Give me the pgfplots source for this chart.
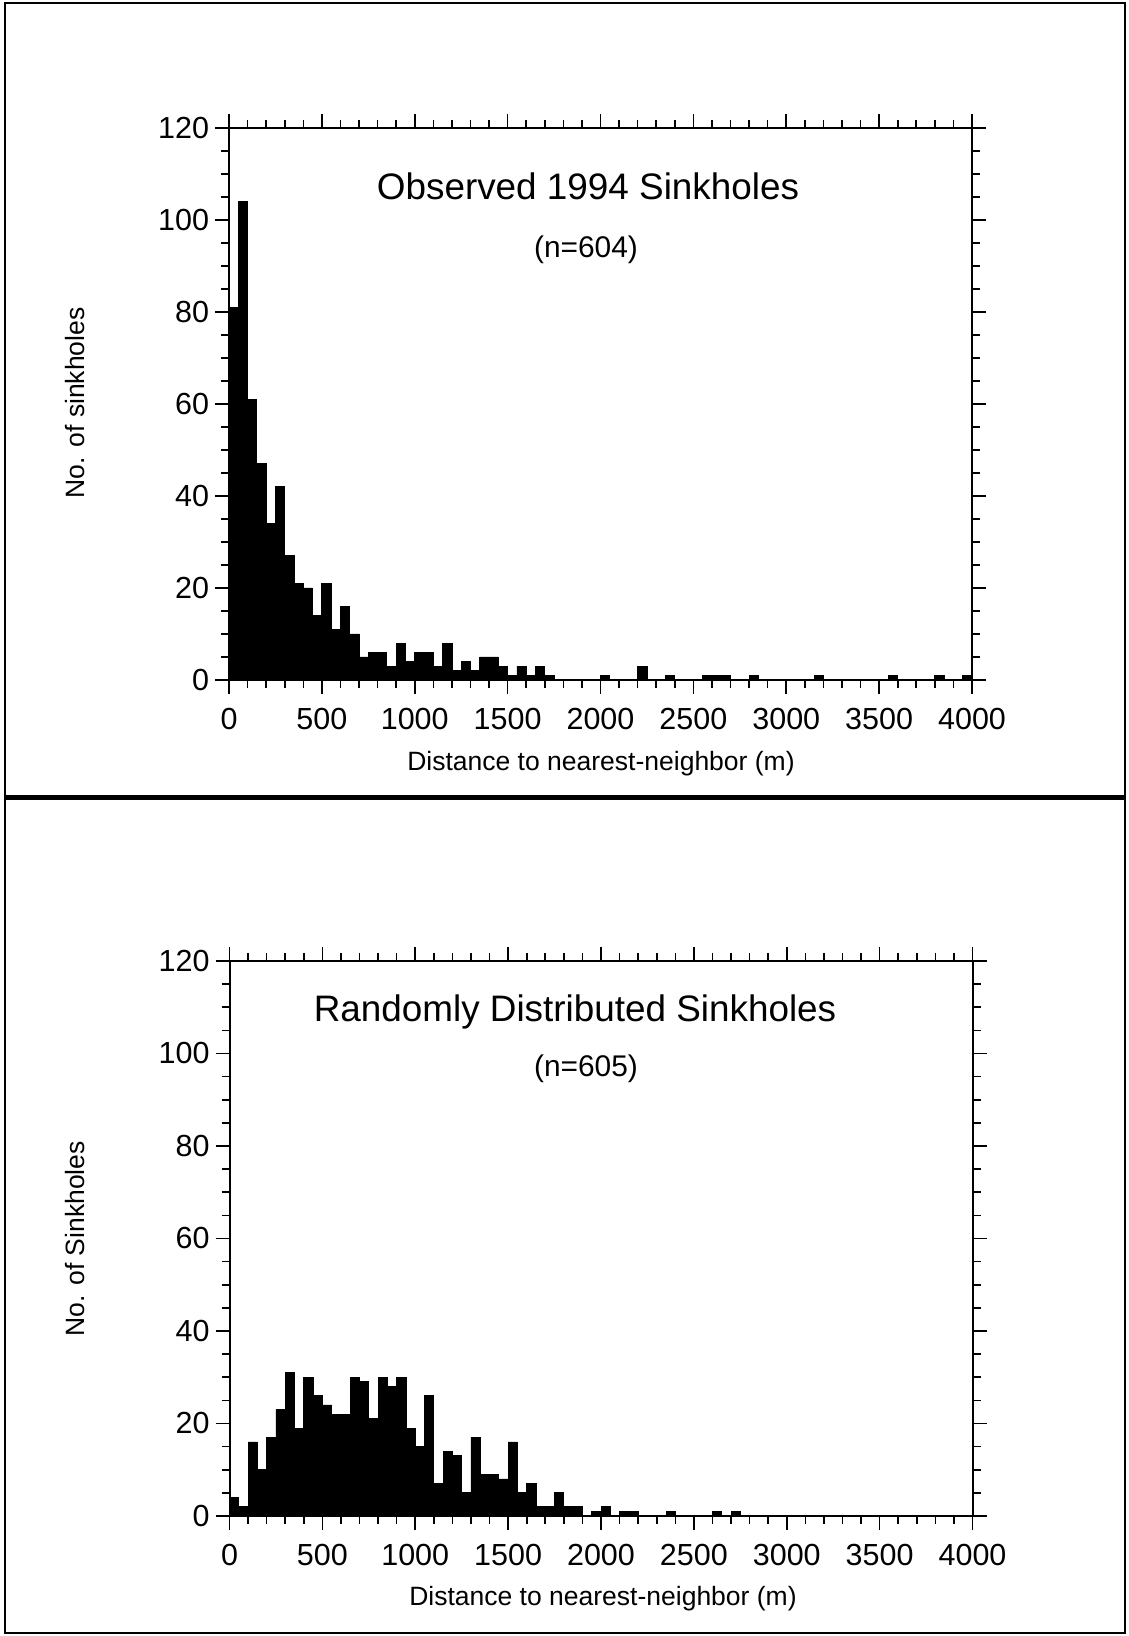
\documentclass[border=0pt]{standalone}
\usepackage{fontspec}
\setmainfont{Liberation Sans}
\usepackage{pgfplots}
\pgfplotsset{compat=1.18}

\pgfplotsset{
  histo/.style={
    scale only axis, width=371.5bp,
    anchor=origin,
    xmin=0, xmax=4000, ymin=0, ymax=120,
    xtick={0,500,...,4000}, ytick={0,20,...,120},
    minor x tick num=4, minor y tick num=3,
    tick align=outside,
    major tick length=7bp, minor tick length=4bp,
    axis line style={line width=1bp},
    every tick/.style={black, line width=0.8bp},
    /pgf/number format/assume math mode=true,
    /pgf/number format/1000 sep={},
    tick label style={font=\fontsize{15.3}{15.3}\selectfont},
    xticklabel style={yshift=-3.5bp},
    yticklabel style={xshift=0.5bp},
  },
  bars/.style={ybar interval, fill=black, draw=black, line width=0.4bp},
}

\begin{document}
\begin{tikzpicture}[x=1bp, y=1bp]
  \useasboundingbox (0,0) rectangle (564.5,818);
  \draw[line width=1.2bp] (2.5,1.5) rectangle (562.5,816.5);
  \draw[line width=2.5bp] (2.5,419) -- (562.5,419);

  % observed
  \begin{axis}[histo, at={(114.5bp,478bp)}, height=276bp]
    \addplot[bars] coordinates {
      (0,81) (50,104) (100,61) (150,47) (200,34) (250,42) (300,27) (350,21)
      (400,20) (450,14) (500,21) (550,11) (600,16) (650,10) (700,5) (750,6)
      (800,6) (850,3) (900,8) (950,4) (1000,6) (1050,6) (1100,3) (1150,8)
      (1200,2) (1250,4) (1300,2) (1350,5) (1400,5) (1450,3) (1500,1) (1550,3)
      (1600,1) (1650,3) (1700,1) (1750,0) (1800,0) (1850,0) (1900,0) (1950,0)
      (2000,1) (2050,0) (2100,0) (2150,0) (2200,3) (2250,0) (2300,0) (2350,1)
      (2400,0) (2450,0) (2500,0) (2550,1) (2600,1) (2650,1) (2700,0) (2750,0)
      (2800,1) (2850,0) (2900,0) (2950,0) (3000,0) (3050,0) (3100,0) (3150,1)
      (3200,0) (3250,0) (3300,0) (3350,0) (3400,0) (3450,0) (3500,0) (3550,1)
      (3600,0) (3650,0) (3700,0) (3750,0) (3800,1) (3850,0) (3900,0) (3950,1)
      (4000,0)
    };
  \end{axis}

  % random
  \begin{axis}[histo, at={(114.75bp,60bp)}, height=277.5bp]
    \addplot[bars] coordinates {
      (0,4) (50,2) (100,16) (150,10) (200,17) (250,23) (300,31) (350,19)
      (400,30) (450,26) (500,24) (550,22) (600,22) (650,30) (700,29) (750,21)
      (800,30) (850,28) (900,30) (950,19) (1000,15) (1050,26) (1100,7) (1150,14)
      (1200,13) (1250,5) (1300,17) (1350,9) (1400,9) (1450,8) (1500,16) (1550,5)
      (1600,7) (1650,2) (1700,2) (1750,5) (1800,2) (1850,2) (1900,0) (1950,1)
      (2000,2) (2050,0) (2100,1) (2150,1) (2200,0) (2250,0) (2300,0) (2350,1)
      (2400,0) (2450,0) (2500,0) (2550,0) (2600,1) (2650,0) (2700,1) (2750,0)
      (2800,0) (2850,0) (2900,0) (2950,0) (3000,0) (3050,0) (3100,0) (3150,0)
      (3200,0) (3250,0) (3300,0) (3350,0) (3400,0) (3450,0) (3500,0) (3550,0)
      (3600,0) (3650,0) (3700,0) (3750,0) (3800,0) (3850,0) (3900,0) (3950,0)
      (4000,0)
    };
  \end{axis}

  \node[font=\fontsize{18.5}{18.5}\selectfont] at (294,725) {Observed 1994 Sinkholes};
  \node[font=\fontsize{15}{15}\selectfont] at (293,693) {(n=604)};
  \node[font=\fontsize{13.3}{13.3}\selectfont, rotate=90] at (37.5,616.5) {No. of sinkholes};
  \node[font=\fontsize{13.3}{13.3}\selectfont] at (300.5,436) {Distance to nearest-neighbor (m)};

  \node[font=\fontsize{18.5}{18.5}\selectfont] at (287.5,312) {Randomly Distributed Sinkholes};
  \node[font=\fontsize{15}{15}\selectfont] at (293,283.5) {(n=605)};
  \node[font=\fontsize{13.3}{13.3}\selectfont, rotate=90] at (37.5,198.5) {No. of Sinkholes};
  \node[font=\fontsize{13.3}{13.3}\selectfont] at (301.5,18.5) {Distance to nearest-neighbor (m)};
\end{tikzpicture}
\end{document}
